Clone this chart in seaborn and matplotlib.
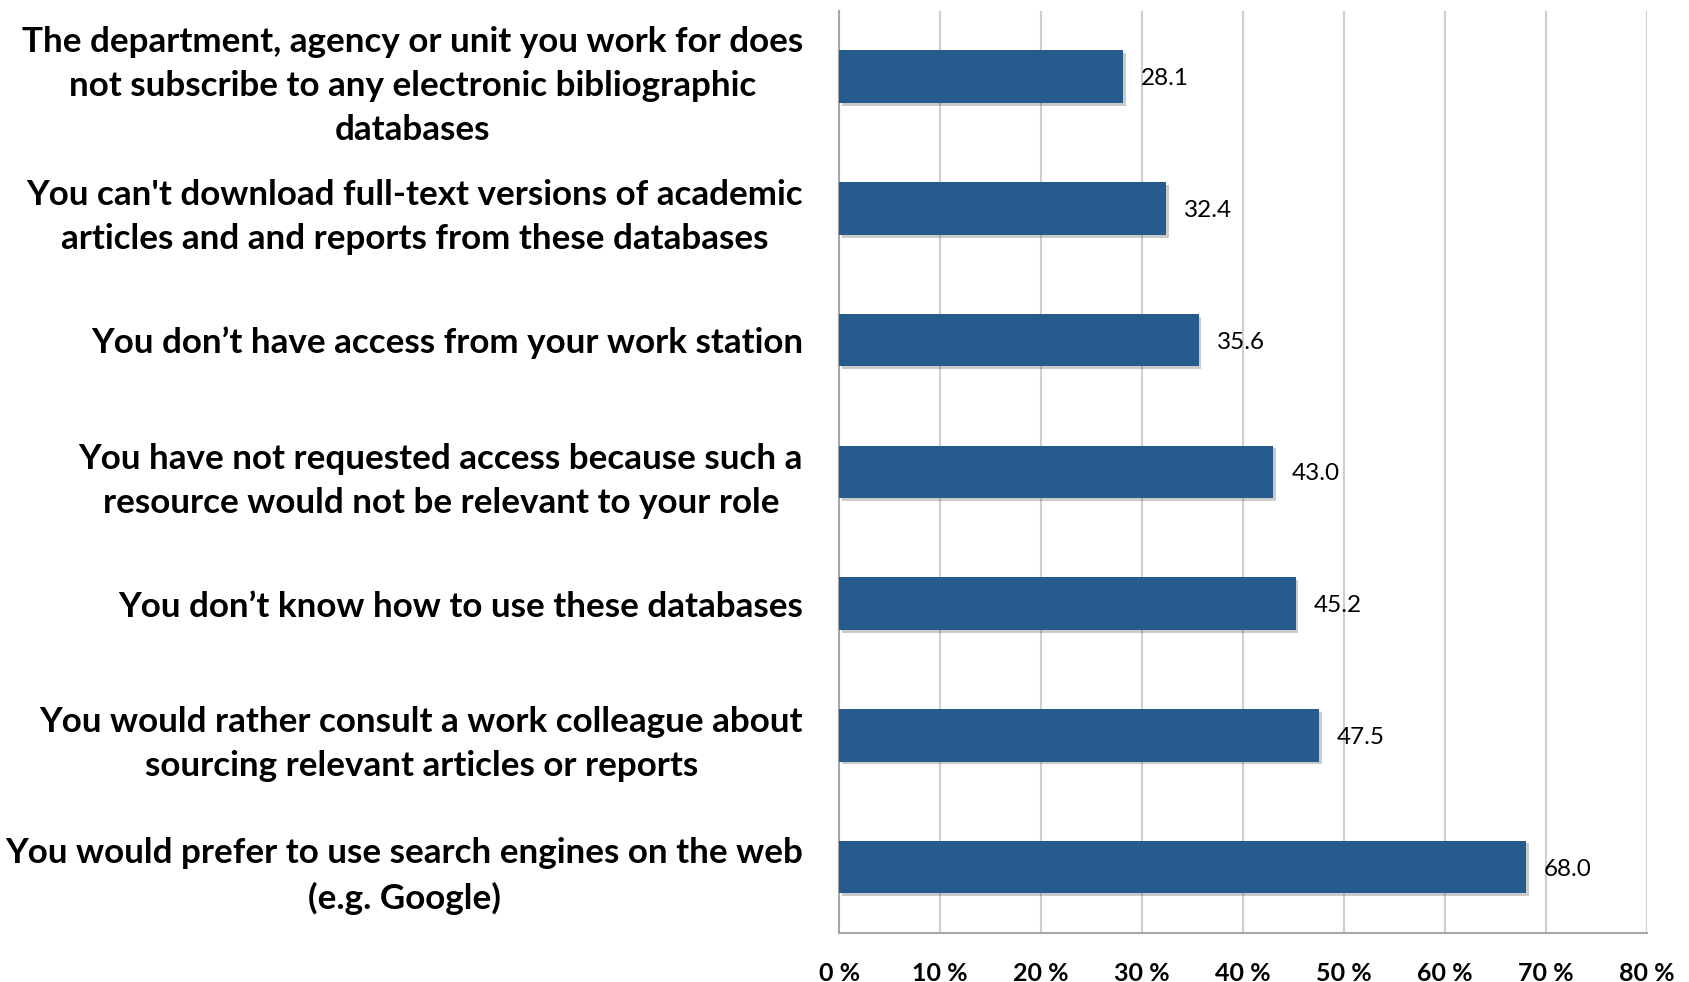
import matplotlib
matplotlib.use("Agg")
import matplotlib.pyplot as plt
import matplotlib.patheffects as pe
import seaborn as sns
import pandas as pd

categories = [
    "The department, agency or unit you work for does\nnot subscribe to any electronic bibliographic\ndatabases",
    "You can't download full-text versions of academic\narticles and and reports from these databases",
    "You don\u2019t have access from your work station",
    "You have not requested access because such a\nresource would not be relevant to your role",
    "You don\u2019t know how to use these databases",
    "You would rather consult a work colleague about\nsourcing relevant articles or reports",
    "You would prefer to use search engines on the web\n(e.g. Google)",
]
values = [28.1, 32.4, 35.6, 43.0, 45.2, 47.5, 68.0]
x_ticks = [0, 10, 20, 30, 40, 50, 60, 70, 80]
x_tick_labels = ["0 %", "10 %", "20 %", "30 %", "40 %", "50 %", "60 %", "70 %", "80 %"]

df = pd.DataFrame({"reason": categories, "pct": values})

sns.set_theme(style="white")
plt.rcParams["font.family"] = ["Lato", "DejaVu Sans"]
plt.rcParams["text.color"] = "black"
plt.rcParams["xtick.labelcolor"] = "black"
plt.rcParams["ytick.labelcolor"] = "black"

fig = plt.figure(figsize=(16.9, 9.82), dpi=100)
ax = fig.add_axes([0.4965, 0.050, 0.478, 0.939])

bar_color = "#285B8D"
sns.barplot(data=df, y="reason", x="pct", orient="h", color=bar_color,
            width=0.4, saturation=1, ax=ax, zorder=3)
for patch in ax.patches:
    patch.set_edgecolor("none")
    patch.set_path_effects([pe.SimplePatchShadow(offset=(2, -2), alpha=0.3, shadow_rgbFace="#555555"),
                            pe.Normal()])

for i, v in enumerate(values):
    ax.text(v + 1.8, i, f"{v:.1f}", va="center_baseline", ha="left",
            fontsize=17.5, color="black")

ax.set_xlim(0, 80)
ax.set_ylim(len(categories) - 0.5, -0.5)
ax.set_xticks(x_ticks)
ax.set_xticklabels(x_tick_labels, fontsize=18, fontweight="bold")
ax.set_xlabel("")
ax.set_ylabel("")

ax.set_yticks(range(len(categories)))
ax.set_yticklabels(categories, fontsize=25.2, fontweight="bold",
                   multialignment="center", linespacing=1.46)
ax.tick_params(axis="y", length=0, pad=26)

# Minor ticks mark the category boundaries on the vertical axis
ax.set_yticks([i - 0.5 for i in range(len(categories) + 1)], minor=True)
ax.tick_params(axis="y", which="minor", length=11, width=1.5, color="#A6A6A6", direction="out")
ax.tick_params(axis="x", length=9, width=1.5, color="#A6A6A6", direction="out", pad=12)

ax.grid(axis="x", color="#CFCFCF", linewidth=1.5, zorder=0)
ax.set_axisbelow(True)
for side in ["top", "right"]:
    ax.spines[side].set_visible(False)
for side in ["left", "bottom"]:
    ax.spines[side].set_color("#A6A6A6")
    ax.spines[side].set_linewidth(1.5)

fig.savefig("out.png", dpi=100)
